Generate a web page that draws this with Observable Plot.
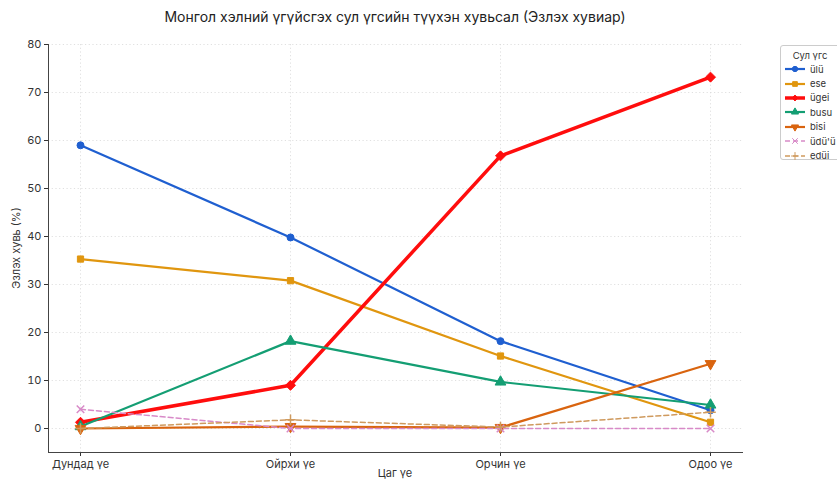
<!DOCTYPE html>
<html><head><meta charset="utf-8">
<script src="https://cdn.jsdelivr.net/npm/d3@7"></script>
<script src="https://cdn.jsdelivr.net/npm/@observablehq/plot@0.6"></script>
<style>
body{margin:0;background:#fff;font-family:Inter,"Noto Sans",sans-serif;}
#wrap{position:relative;width:837px;height:481px;overflow:hidden;}
#legend{position:absolute;left:780px;top:45px;width:60px;height:115px;border:1px solid #ccc;border-radius:3px;background:#fff;font-size:9.5px;color:#333;box-sizing:border-box;}
#legend .t{text-align:center;margin-top:4px;margin-bottom:1px;font-size:9.5px;}
#legend .row{display:flex;align-items:center;height:14.4px;padding-left:4px;}
#legend .row svg{margin-right:5px;}
</style></head>
<body><div id="wrap"><div id="legend"></div></div>
<script>
const periods = ["Дундад үе", "Ойрхи үе", "Орчин үе", "Одоо үе"];
const seriesNames = ["ülü", "ese", "ügei", "busu", "bisi", "üdü'ü", "edüi"];
const ulu   = [59.0, 39.8, 18.2, 3.8];
const ese   = [35.3, 30.8, 15.1, 1.3];
const ugei  = [1.3, 9.0, 56.8, 73.2];
const busu  = [0.4, 18.2, 9.7, 4.9];
const bisi  = [0.0, 0.4, 0.2, 13.5];
const udu   = [4.0, 0.0, 0.0, 0.0];
const edui  = [0.0, 1.8, 0.3, 3.4];
const yTicks = [0, 10, 20, 30, 40, 50, 60, 70, 80];

const values = [ulu, ese, ugei, busu, bisi, udu, edui];
const colors = ["#1f5fd0", "#e0960f", "#ff0d0d", "#149e73", "#d9640f", "#d88ac8", "#cf9a5e"];
const symbols = ["circle", "square", "diamond2", "triangle", "triangle", "times", "plus"];
const rotates = [0, 0, 0, 0, 180, 0, 0];
const widths = [2.2, 2.2, 3.5, 2.2, 2.2, 1.5, 1.5];
const dashes = [null, null, null, null, null, "5,3", "5,3"];
const radii = [3.5, 3.5, 4.5, 4, 4, 3.5, 3.5];

const data = [];
seriesNames.forEach((s, i) => periods.forEach((p, j) => data.push({series: s, period: p, value: values[i][j]})));

const marks = [
  Plot.gridY(yTicks, {stroke: "#d8d8d8", strokeOpacity: 0.8, strokeDasharray: "1.2,2.5"}),
  Plot.gridX(periods, {stroke: "#d8d8d8", strokeOpacity: 0.8, strokeDasharray: "1.2,2.5"})
];
seriesNames.forEach((s, i) => {
  const d = data.filter(r => r.series === s);
  marks.push(Plot.line(d, {x: "period", y: "value", stroke: colors[i], strokeWidth: widths[i], strokeDasharray: dashes[i]}));
  marks.push(Plot.dot(d, {x: "period", y: "value", fill: colors[i], stroke: colors[i], strokeWidth: symbols[i] === "times" || symbols[i] === "plus" ? 1.5 : 1, symbol: symbols[i], r: radii[i], rotate: rotates[i]}));
});
marks.push(Plot.axisY(yTicks, {tickSize: 4, fontSize: 11, color: "#333", label: null, tickPadding: 3}));
marks.push(Plot.axisX(periods, {tickSize: 4, fontSize: 11, color: "#333", label: null, tickPadding: 4}));
marks.push(Plot.frame({anchor: "left", stroke: "#444"}));
marks.push(Plot.frame({anchor: "bottom", stroke: "#444"}));

const chart = Plot.plot({
  width: 837, height: 481,
  marginLeft: 48, marginRight: 95, marginTop: 44, marginBottom: 29,
  x: {type: "point", domain: periods, padding: 0.15},
  y: {domain: [-5, 80]},
  style: {fontFamily: "Inter, 'Noto Sans', sans-serif", background: "#fff"},
  marks
});
const svg = d3.select(chart);
svg.append("text").attr("x", 395).attr("y", 22).attr("text-anchor", "middle")
  .attr("font-size", 14).attr("fill", "#222").text("Монгол хэлний үгүйсгэх сул үгсийн түүхэн хувьсал (Эзлэх хувиар)");
svg.append("text").attr("transform", "translate(20,248) rotate(-90)").attr("text-anchor", "middle")
  .attr("font-size", 11).attr("fill", "#333").text("Эзлэх хувь (%)");
svg.append("text").attr("x", 395).attr("y", 477).attr("text-anchor", "middle")
  .attr("font-size", 11).attr("fill", "#333").text("Цаг үе");
document.getElementById("wrap").prepend(chart);

const leg = d3.select("#legend");
leg.append("div").attr("class", "t").text("Сул үгс");
seriesNames.forEach((s, i) => {
  const row = leg.append("div").attr("class", "row");
  const sv = row.append("svg").attr("width", 20).attr("height", 10);
  sv.append("line").attr("x1", 0).attr("x2", 20).attr("y1", 5).attr("y2", 5)
    .attr("stroke", colors[i]).attr("stroke-width", widths[i]).attr("stroke-dasharray", dashes[i]);
  const sym = {circle: d3.symbolCircle, square: d3.symbolSquare, diamond2: d3.symbolDiamond2, triangle: d3.symbolTriangle, times: d3.symbolTimes, plus: d3.symbolPlus}[symbols[i]];
  sv.append("path").attr("d", d3.symbol(sym, 22)()).attr("transform", `translate(10,5) rotate(${rotates[i]})`)
    .attr("fill", colors[i]).attr("stroke", colors[i]).attr("stroke-width", 1);
  row.append("span").text(s);
});
</script>
</body></html>
